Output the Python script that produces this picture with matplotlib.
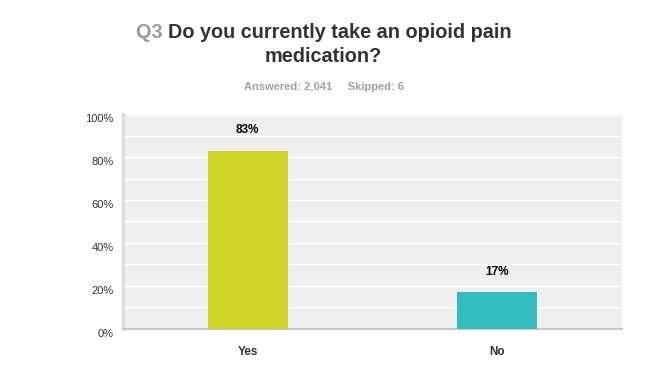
import matplotlib.pyplot as plt
from matplotlib.ticker import MultipleLocator

categories = ["Yes", "No"]
percents = [83, 17]
bar_colors = ["#D0D52A", "#35BEBF"]
y_ticks = [0, 20, 40, 60, 80, 100]

plt.rcParams["font.family"] = ["Liberation Sans", "DejaVu Sans"]

fig = plt.figure(figsize=(6.5, 3.87), dpi=100)
ax = fig.add_axes([0.1892, 0.1499, 0.7677, 0.5555])
ax.set_facecolor("#EFEFEF")

xs = [i + 0.5 for i in range(len(categories))]
ax.bar(xs, percents, width=0.32, color=bar_colors, zorder=3)
for x, p in zip(xs, percents):
    ax.annotate(f"{p}%", (x, p), xytext=(0, 10.5), textcoords="offset points",
                ha="center", va="bottom", fontsize=8.5, fontweight="bold", color="#000000")

ax.set_xlim(0, len(categories))
ax.set_ylim(0, 100)
ax.set_xticks(xs)
ax.set_xticklabels(categories, fontsize=8.5, fontweight="bold", color="#333333")
ax.set_yticks(y_ticks)
ax.set_yticklabels([f"{t}%" for t in y_ticks], fontsize=8, color="#333333", va="top")
ax.yaxis.set_minor_locator(MultipleLocator(10))
ax.grid(True, which="both", axis="y", color="white", linewidth=1, zorder=1)
ax.tick_params(axis="both", which="both", length=0)
ax.tick_params(axis="y", pad=6.5)
ax.tick_params(axis="x", pad=12)
for s in ["top", "right"]:
    ax.spines[s].set_visible(False)
ax.spines["left"].set_color("#DEDEDE")
ax.spines["left"].set_linewidth(2.5)
ax.spines["bottom"].set_color("#C8C8C8")
ax.spines["bottom"].set_linewidth(1.5)

# title with grey question number
fig.canvas.draw()
r = fig.canvas.get_renderer()
q_part = "Q3 "
rest = "Do you currently take an opioid pain"
t1 = fig.text(0, 0, q_part + rest, fontsize=14.3, fontweight="bold")
total_w = t1.get_window_extent(r).width / fig.bbox.width
t1.remove()
tq = fig.text(0, 0, q_part, fontsize=14.3, fontweight="bold")
q_w = tq.get_window_extent(r).width / fig.bbox.width
tq.remove()
x0 = 0.4985 - total_w / 2
y1 = 1 - 32 / 387
fig.text(x0, y1, q_part, fontsize=14.3, fontweight="bold", color="#9B9B9B", va="center", ha="left")
fig.text(x0 + q_w, y1, rest, fontsize=14.3, fontweight="bold", color="#333333", va="center", ha="left")
fig.text(0.497, 1 - 57 / 387, "medication?", fontsize=14.3, fontweight="bold", color="#333333",
         va="center", ha="center")
fig.text(0.498, 1 - 87 / 387, "Answered: 2,041     Skipped: 6", fontsize=8, fontweight="bold",
         color="#A0A0A0", va="center", ha="center")

fig.savefig("out.png", dpi=100)
